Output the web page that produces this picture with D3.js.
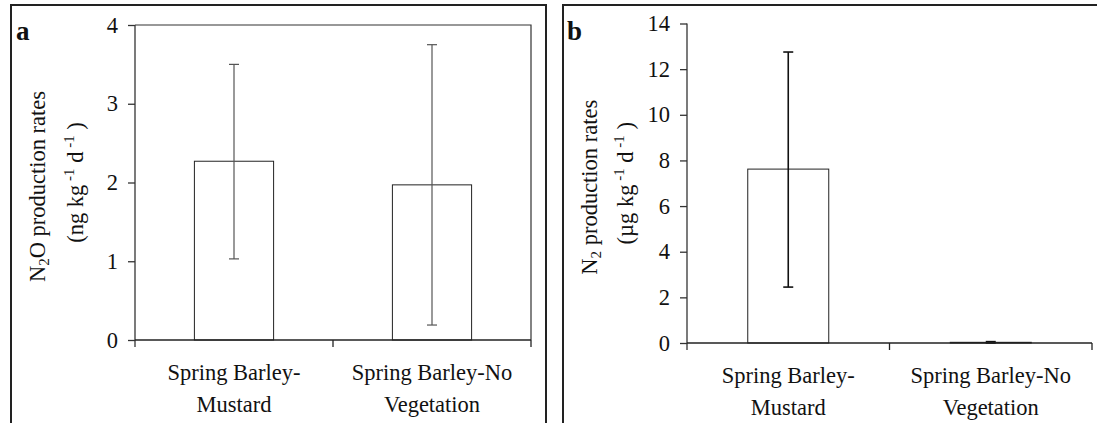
<!DOCTYPE html>
<html>
<head>
<meta charset="utf-8">
<script src="https://cdn.jsdelivr.net/npm/d3@7"></script>
<style>
  body { margin: 0; background: #fff; }
  svg text { font-family: "Liberation Serif", "Times New Roman", serif; fill: #111; }
</style>
</head>
<body>
<svg id="chart" width="1097" height="423"></svg>
<script>
const categories = ["Spring Barley-|Mustard", "Spring Barley-No|Vegetation"];

// panel a: N2O (ng kg-1 d-1)
const n2oMean = [2.27, 1.97];
const n2oLow = [1.03, 0.19];
const n2oHigh = [3.5, 3.75];
const n2oTicks = [0, 1, 2, 3, 4];

// panel b: N2 (µg kg-1 d-1)
const n2Mean = [7.62, 0.03];
const n2Low = [2.45, 0.0];
const n2High = [12.75, 0.06];
const n2Ticks = [0, 2, 4, 6, 8, 10, 12, 14];

const svg = d3.select("#chart");
const fontSize = 22.5;

function panel(o) {
  const g = svg.append("g");

  // outer frame
  g.append("path")
    .attr("d", o.frame)
    .attr("fill", "none")
    .attr("stroke", "#222")
    .attr("stroke-width", 2);

  g.append("text")
    .attr("x", o.letterX).attr("y", 40)
    .attr("font-size", 27).attr("font-weight", "bold")
    .text(o.letter);

  const x = d3.scaleBand().domain(categories).range(o.xRange).padding(0);
  const y = d3.scaleLinear().domain(o.yDomain).range(o.yRange);
  const barW = x.bandwidth() * 0.4;

  // plot box (panel a only)
  if (o.box) {
    g.append("path")
      .attr("d", `M${o.xRange[0]},${o.yRange[1]}H${o.xRange[1]}V${o.yRange[0]}`)
      .attr("fill", "none").attr("stroke", "#333").attr("stroke-width", 1.2);
  }

  // bars
  g.selectAll(".bar").data(categories).join("rect")
    .attr("x", d => x(d) + x.bandwidth() / 2 - barW / 2)
    .attr("y", (d, i) => y(o.mean[i]))
    .attr("width", barW)
    .attr("height", (d, i) => y(0) - y(o.mean[i]))
    .attr("fill", "#fff").attr("stroke", "#222").attr("stroke-width", 1);

  // error bars
  categories.forEach((d, i) => {
    const cx = x(d) + x.bandwidth() / 2;
    g.append("line")
      .attr("x1", cx).attr("x2", cx)
      .attr("y1", y(o.low[i])).attr("y2", y(o.high[i]))
      .attr("stroke", o.errColor).attr("stroke-width", o.errWidth);
    [o.low[i], o.high[i]].forEach(v => {
      g.append("line")
        .attr("x1", cx - 5).attr("x2", cx + 5)
        .attr("y1", y(v)).attr("y2", y(v))
        .attr("stroke", o.errColor).attr("stroke-width", o.errWidth);
    });
  });

  // y axis
  const ya = g.append("g")
    .attr("transform", `translate(${o.xRange[0]},0)`)
    .call(d3.axisLeft(y).tickValues(o.ticks).tickFormat(d3.format("d"))
      .tickSize(7).tickSizeOuter(0).tickPadding(10));
  ya.select(".domain").attr("stroke", "#333").attr("stroke-width", 1.3)
    .attr("d", `M0,${o.yRange[0] + 7}V${o.yRange[1]}`);
  ya.selectAll(".tick line").attr("stroke", "#333").attr("stroke-width", 1.3);
  ya.selectAll(".tick text").attr("font-size", fontSize).attr("font-family", "Liberation Serif").attr("fill", "#111");

  // x axis line and boundary ticks
  g.append("line")
    .attr("x1", o.xRange[0]).attr("x2", o.xRange[1])
    .attr("y1", y(0)).attr("y2", y(0))
    .attr("stroke", "#222").attr("stroke-width", 1.3);
  g.selectAll(".xt").data(categories).join("line")
    .attr("x1", d => x(d) + x.bandwidth()).attr("x2", d => x(d) + x.bandwidth())
    .attr("y1", y(0)).attr("y2", y(0) + 7)
    .attr("stroke", "#222").attr("stroke-width", 1.3);

  // category labels
  g.selectAll(".cl").data(categories).join("text")
    .attr("text-anchor", "middle")
    .attr("font-size", fontSize)
    .attr("transform", d => `translate(${x(d) + x.bandwidth() / 2},${y(0) + 40})`)
    .selectAll("tspan").data(d => d.split("|")).join("tspan")
    .attr("x", 0).attr("dy", (d, i) => i === 0 ? 0 : 32)
    .text(d => d);

  // y label
  const cy = (o.yRange[0] + o.yRange[1]) / 2 + 4;
  const l1 = g.append("text")
    .attr("text-anchor", "middle").attr("font-size", fontSize)
    .attr("transform", `translate(${o.labX1},${cy}) rotate(-90)`);
  l1.append("tspan").text("N");
  l1.append("tspan").attr("font-size", 15).attr("dy", 4).text("2");
  l1.append("tspan").attr("dy", -4).text(o.gas + " production rates");

  const l2 = g.append("text")
    .attr("text-anchor", "middle").attr("font-size", fontSize)
    .attr("transform", `translate(${o.labX2},${cy - 4}) rotate(-90)`);
  l2.append("tspan").text("(" + o.unit + " kg");
  l2.append("tspan").attr("font-size", 15).attr("dy", -9).text(" -1");
  l2.append("tspan").attr("dy", 9).text(" d");
  l2.append("tspan").attr("font-size", 15).attr("dy", -9).text(" -1");
  l2.append("tspan").attr("dy", 9).text(" )");
}

panel({
  letter: "a", letterX: 16,
  frame: "M11,430V5H546V430",
  xRange: [135, 531], yDomain: [0, 4], yRange: [340, 25],
  mean: n2oMean, low: n2oLow, high: n2oHigh, ticks: n2oTicks,
  box: true, errColor: "#555", errWidth: 1.2,
  labX1: 45, labX2: 83, gas: "O", unit: "ng"
});

panel({
  letter: "b", letterX: 567,
  frame: "M563,430V5H1100",
  xRange: [687, 1092], yDomain: [0, 14], yRange: [343, 23.5],
  mean: n2Mean, low: n2Low, high: n2High, ticks: n2Ticks,
  box: false, errColor: "#111", errWidth: 1.6,
  labX1: 597, labX2: 633, gas: "", unit: "\u00b5g"
});
</script>
</body>
</html>
